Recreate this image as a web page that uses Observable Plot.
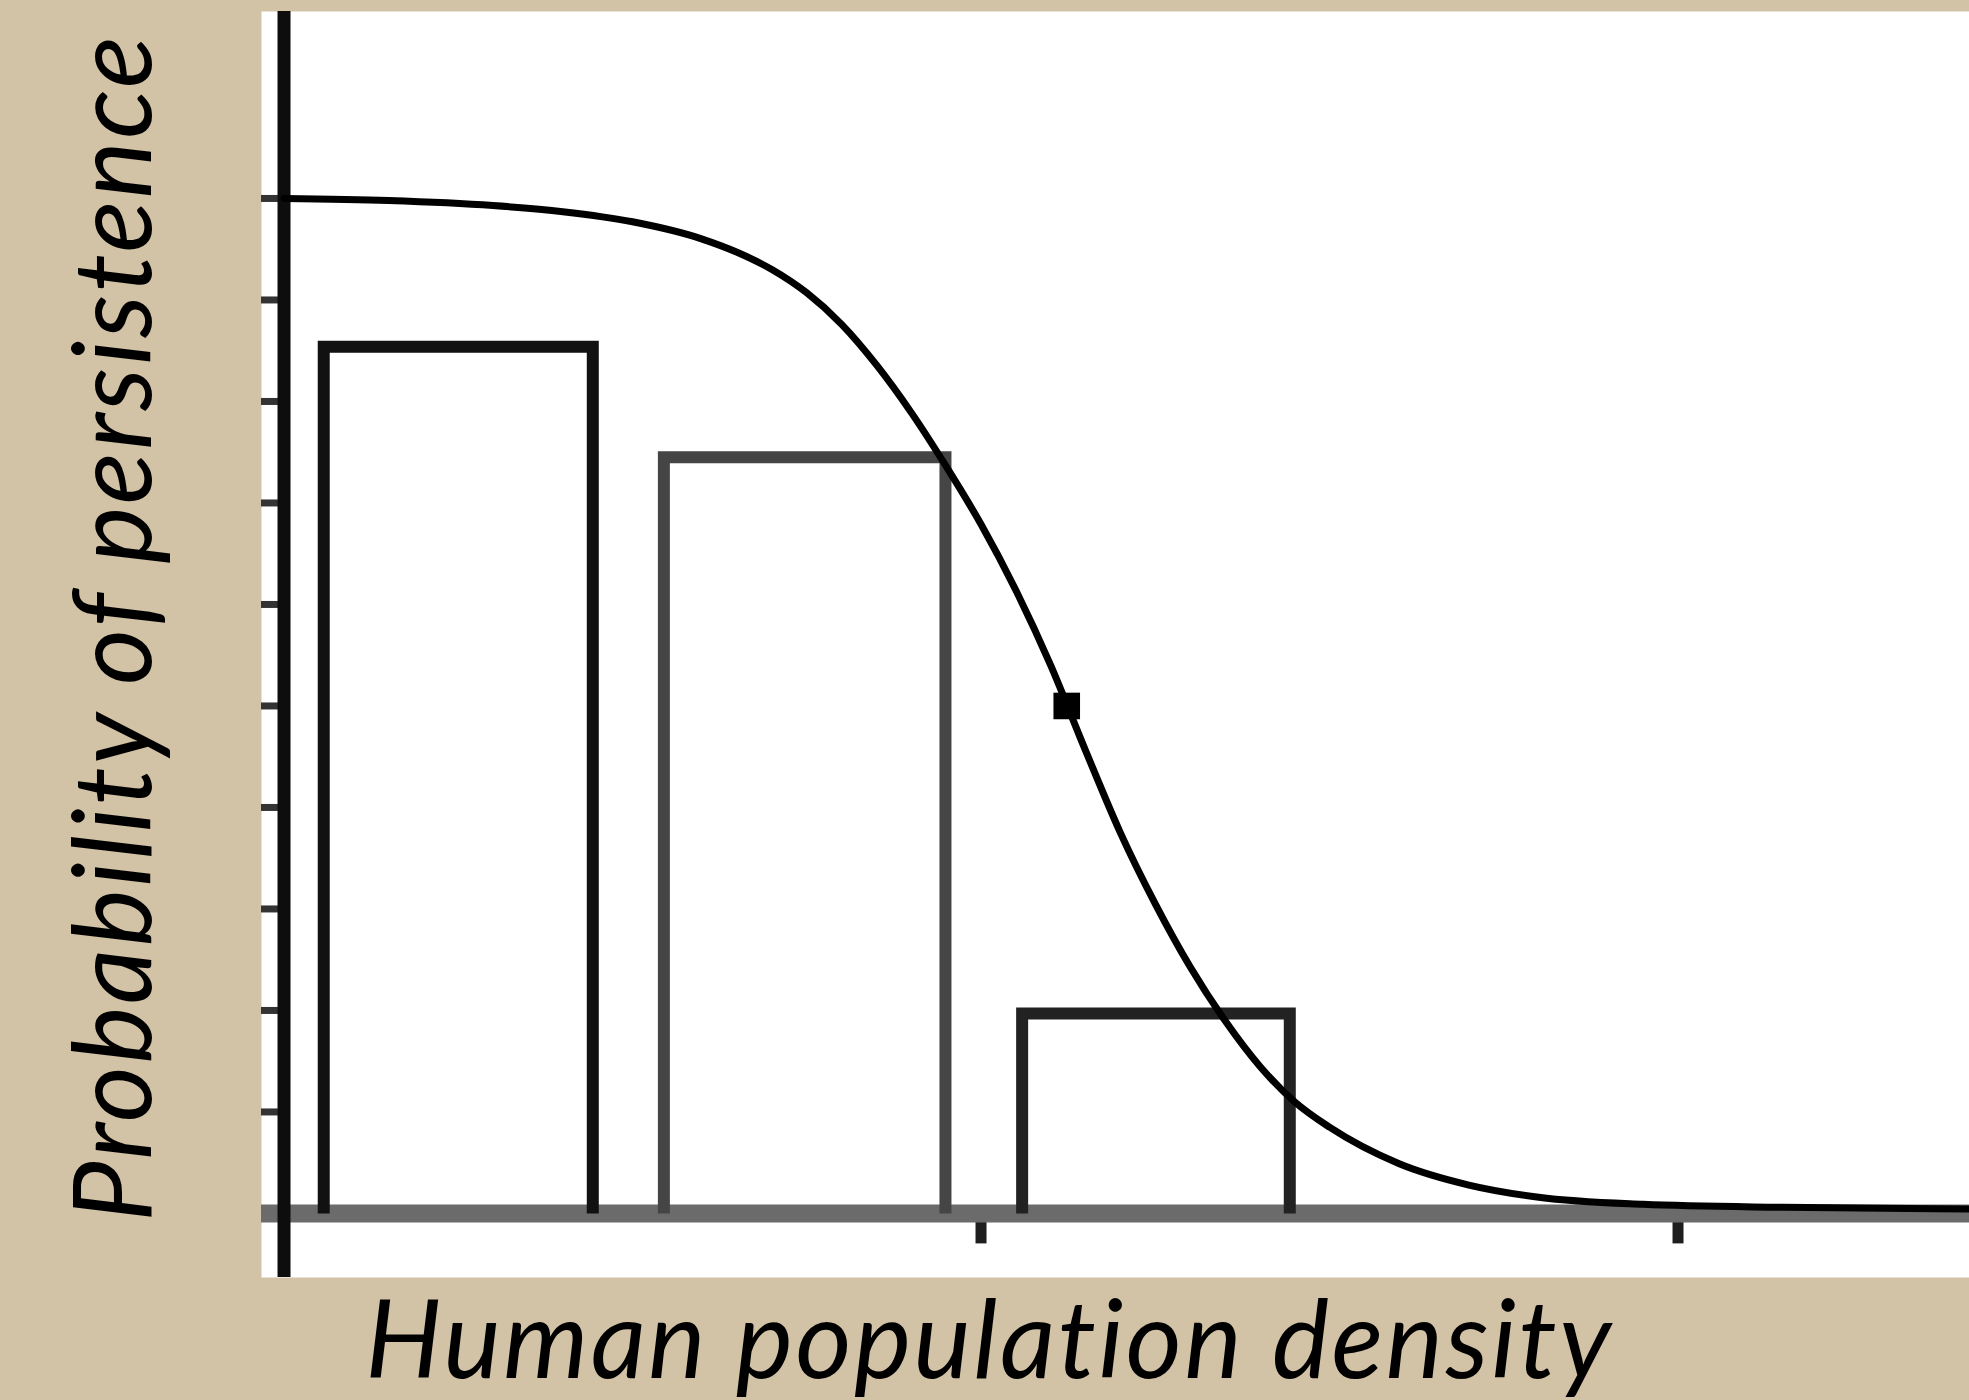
<!DOCTYPE html>
<html>
<head>
<meta charset="utf-8">
<script src="https://cdn.jsdelivr.net/npm/d3@7"></script>
<script src="https://cdn.jsdelivr.net/npm/@observablehq/plot@0.6"></script>
<style>
  html, body { margin: 0; padding: 0; background: #d3c3a6; }
  #chart { width: 1969px; height: 1400px; }
  #chart svg text { letter-spacing: 2.5px; }
</style>
</head>
<body>
<div id="chart"></div>
<script>
// ---- data ----
const yAxisLabel = "Probability of persistence";
const xAxisLabel = "Human population density";

const barStart  = [0.057, 0.545, 1.059];
const barEnd    = [0.443, 0.949, 1.443];
const barHeight = [0.854, 0.745, 0.197];

const curveDensity = [0, 0.15, 0.3, 0.4, 0.5, 0.6, 0.65, 0.7, 0.75, 0.8,
  0.85, 0.9, 0.95, 1.0, 1.05, 1.1, 1.15, 1.2, 1.25, 1.3,
  1.35, 1.4, 1.45, 1.5, 1.6, 1.7, 1.8, 1.95, 2.15, 2.418];
const curvePersistence = [1.0, 0.998, 0.993, 0.987, 0.977, 0.960, 0.947, 0.930, 0.907, 0.876,
  0.836, 0.789, 0.736, 0.679, 0.614, 0.540, 0.456, 0.375, 0.305, 0.243,
  0.190, 0.145, 0.110, 0.085, 0.049, 0.028, 0.016, 0.009, 0.006, 0.0045];

const markerDensity = [1.123];
const markerPersistence = [0.5];

const yTickValues = [0, 0.1, 0.2, 0.3, 0.4, 0.5, 0.6, 0.7, 0.8, 0.9, 1.0];
const xTickValues = [1, 2];

// ---- build tables ----
const barOutline = barStart.flatMap((x1, i) => [
  {bar: i, x: x1, y: 0},
  {bar: i, x: x1, y: barHeight[i]},
  {bar: i, x: barEnd[i], y: barHeight[i]},
  {bar: i, x: barEnd[i], y: 0}
]);
const curve = curveDensity.map((x, i) => ({x, y: curvePersistence[i]}));
const marker = markerDensity.map((x, i) => ({x, y: markerPersistence[i]}));

const X0 = -0.0323, X1 = 2.4182, Y0 = -0.0631, Y1 = 1.1842;
const barStrokes = ["#111111", "#454545", "#222222"];
const labelFont = {fontSize: 108, fontStyle: "italic", fontFamily: "Lato, 'Open Sans', sans-serif", fill: "#000"};

const chart = Plot.plot({
  width: 1969,
  height: 1400,
  marginLeft: 261,
  marginRight: 0,
  marginTop: 11,
  marginBottom: 123,
  style: {background: "#d3c3a6", overflow: "visible"},
  x: {domain: [X0, X1], axis: null},
  y: {domain: [Y0, Y1], axis: null},
  color: {type: "identity"},
  marks: [
    Plot.frame({fill: "white", stroke: "none"}),
    Plot.ruleY(yTickValues, {x1: X0, x2: 0, stroke: "#333", strokeWidth: 7}),
    Plot.ruleX(xTickValues, {y1: 0, y2: -0.03, stroke: "#1e1e1e", strokeWidth: 11}),
    Plot.ruleY([0], {stroke: "#6b6b6b", strokeWidth: 18}),
    Plot.line(barOutline, {x: "x", y: "y", z: "bar", stroke: d => barStrokes[d.bar], strokeWidth: 12, strokeLinejoin: "miter", strokeMiterlimit: 4, strokeLinecap: "butt"}),
    Plot.ruleX([0], {stroke: "#0d0d0d", strokeWidth: 13}),
    Plot.line(curve, {x: "x", y: "y", stroke: "#000", strokeWidth: 7, curve: "monotone-x"}),
    Plot.dot(marker, {x: "x", y: "y", symbol: "square", r: 15, fill: "#000", stroke: "none"}),
    Plot.text([xAxisLabel], {x: 1.012, y: -0.1626, text: d => d, textAnchor: "middle", lineAnchor: "bottom", ...labelFont}),
    Plot.text([yAxisLabel], {x: -0.1915, y: 0.5768, text: d => d, rotate: -90, textAnchor: "middle", lineAnchor: "bottom", ...labelFont})
  ]
});
document.getElementById("chart").appendChild(chart);
</script>
</body>
</html>
